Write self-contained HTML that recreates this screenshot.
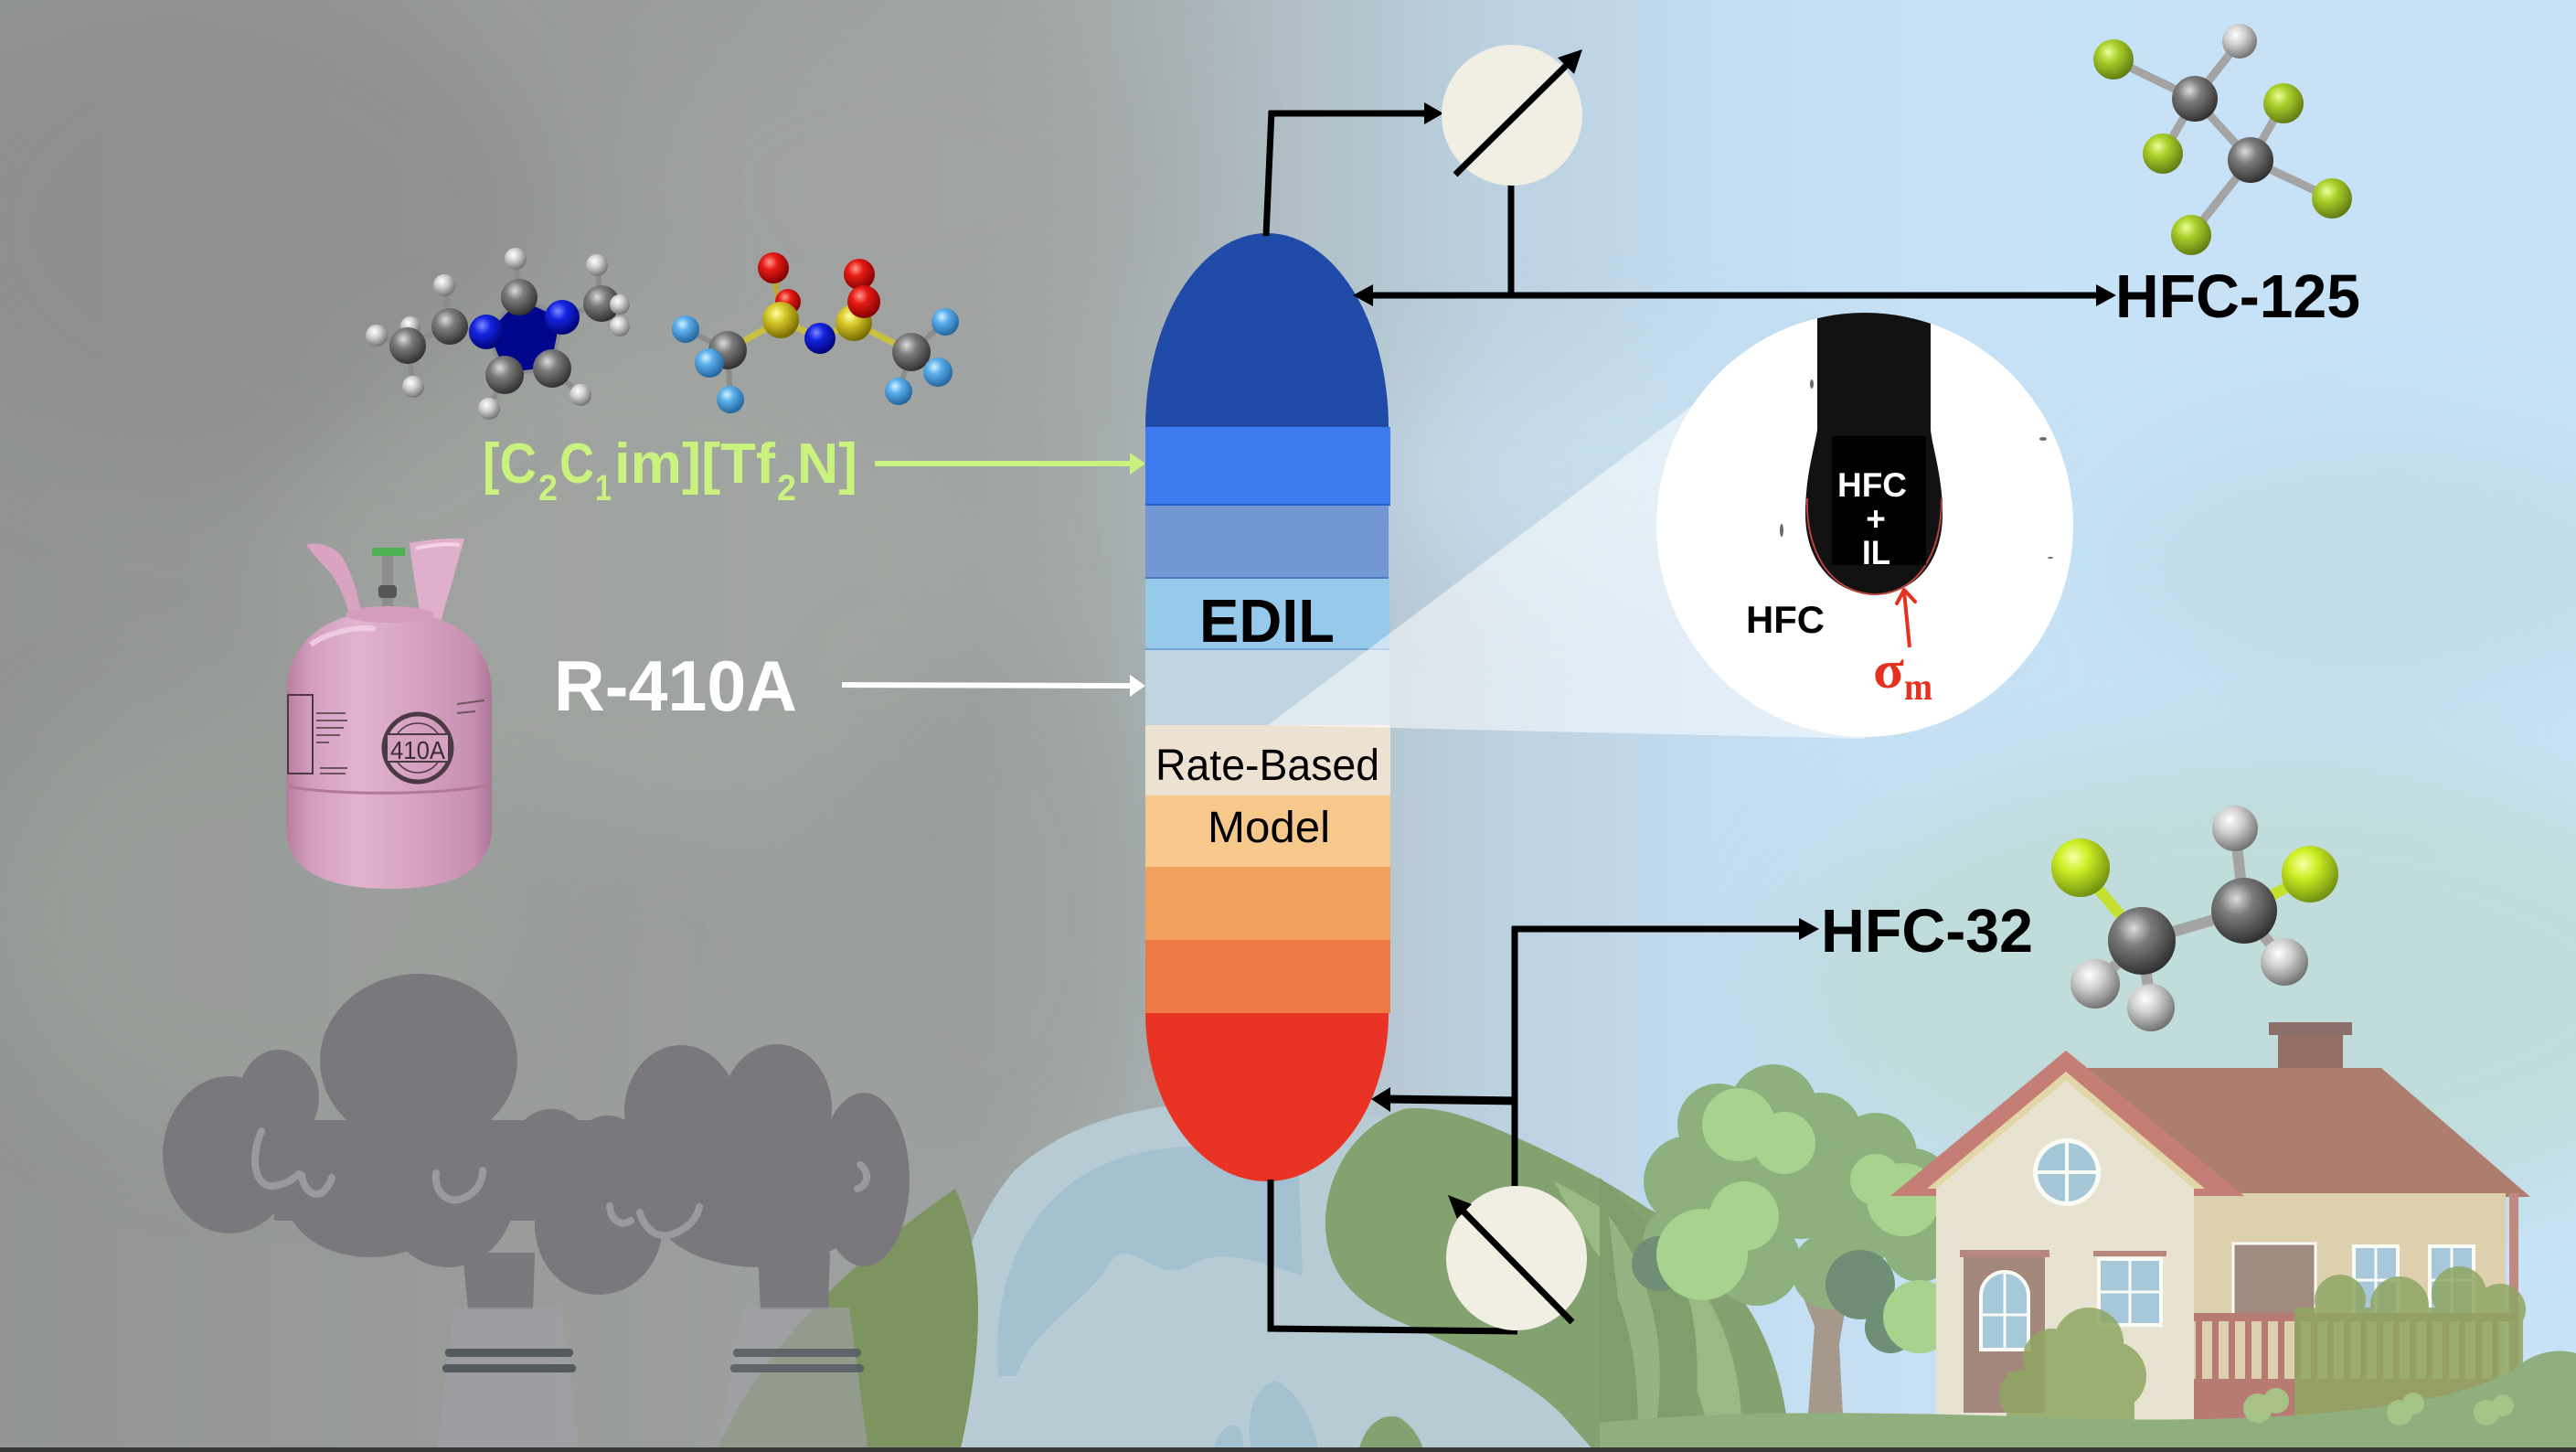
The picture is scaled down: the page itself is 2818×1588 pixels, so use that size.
<!DOCTYPE html>
<html><head><meta charset="utf-8"><style>
html,body{margin:0;padding:0;width:2818px;height:1588px;overflow:hidden;background:#a0a4a2}
svg{display:block}
</style></head><body>
<svg width="2818" height="1588" viewBox="0 0 2818 1588" xmlns="http://www.w3.org/2000/svg" font-family="'Liberation Sans', sans-serif">
<defs>
  <linearGradient id="bg" x1="0" y1="0" x2="2818" y2="0" gradientUnits="userSpaceOnUse">
    <stop offset="0" stop-color="#929592"/>
    <stop offset="0.2" stop-color="#999c99"/>
    <stop offset="0.38" stop-color="#9fa3a1"/>
    <stop offset="0.43" stop-color="#a5acac"/>
    <stop offset="0.5" stop-color="#b0bec6"/>
    <stop offset="0.58" stop-color="#bcd1e0"/>
    <stop offset="0.66" stop-color="#c2dbef"/>
    <stop offset="0.75" stop-color="#c6e1f6"/>
    <stop offset="1" stop-color="#c8e3f8"/>
  </linearGradient>
  <filter id="blur" x="-60%" y="-60%" width="220%" height="220%"><feGaussianBlur stdDeviation="55"/></filter>
  <filter id="blur2" x="-20%" y="-20%" width="140%" height="140%"><feGaussianBlur stdDeviation="3"/></filter>
  <radialGradient id="gC" cx="0.38" cy="0.32" r="0.72"><stop offset="0" stop-color="#dcdcdc"/><stop offset="0.35" stop-color="#7c7c7c"/><stop offset="1" stop-color="#2c2c2c"/></radialGradient>
  <radialGradient id="gH" cx="0.38" cy="0.32" r="0.72"><stop offset="0" stop-color="#ffffff"/><stop offset="0.4" stop-color="#cfcfcf"/><stop offset="1" stop-color="#6c6c6c"/></radialGradient>
  <radialGradient id="gN" cx="0.38" cy="0.32" r="0.72"><stop offset="0" stop-color="#7d8cff"/><stop offset="0.35" stop-color="#1424e0"/><stop offset="1" stop-color="#00006e"/></radialGradient>
  <radialGradient id="gO" cx="0.38" cy="0.32" r="0.72"><stop offset="0" stop-color="#ff9a8a"/><stop offset="0.35" stop-color="#e61a14"/><stop offset="1" stop-color="#7a0000"/></radialGradient>
  <radialGradient id="gS" cx="0.38" cy="0.32" r="0.72"><stop offset="0" stop-color="#ffffa0"/><stop offset="0.35" stop-color="#d6c828"/><stop offset="1" stop-color="#6e6200"/></radialGradient>
  <radialGradient id="gFb" cx="0.38" cy="0.32" r="0.72"><stop offset="0" stop-color="#d4f2ff"/><stop offset="0.35" stop-color="#5aaeea"/><stop offset="1" stop-color="#1f5f98"/></radialGradient>
  <radialGradient id="gFg" cx="0.38" cy="0.32" r="0.72"><stop offset="0" stop-color="#eeff9c"/><stop offset="0.35" stop-color="#aad02a"/><stop offset="1" stop-color="#5c7612"/></radialGradient>
  <radialGradient id="gFy" cx="0.38" cy="0.32" r="0.72"><stop offset="0" stop-color="#fbffa8"/><stop offset="0.35" stop-color="#cdef24"/><stop offset="1" stop-color="#6c8a10"/></radialGradient>
  <linearGradient id="cyl" x1="313" y1="0" x2="540" y2="0" gradientUnits="userSpaceOnUse">
    <stop offset="0" stop-color="#b77d9f"/>
    <stop offset="0.12" stop-color="#d39ec0"/>
    <stop offset="0.35" stop-color="#e2b3d0"/>
    <stop offset="0.6" stop-color="#d7a3c3"/>
    <stop offset="0.9" stop-color="#c890b3"/>
    <stop offset="1" stop-color="#a97294"/>
  </linearGradient>
  <clipPath id="circ"><ellipse cx="2040" cy="574" rx="228" ry="232"/></clipPath>
</defs>

<!-- background -->
<rect x="0" y="0" width="2818" height="1588" fill="url(#bg)"/>
<g filter="url(#blur)">
  <ellipse cx="250" cy="250" rx="350" ry="280" fill="#888b88" opacity="0.55"/>
  <ellipse cx="700" cy="620" rx="380" ry="280" fill="#a6a9a6" opacity="0.5"/>
  <ellipse cx="280" cy="1000" rx="300" ry="240" fill="#a0a3a0" opacity="0.45"/>
  <ellipse cx="1000" cy="200" rx="300" ry="180" fill="#a3a6a4" opacity="0.4"/>
  <ellipse cx="1080" cy="1000" rx="200" ry="300" fill="#959a97" opacity="0.4"/>
  <ellipse cx="2620" cy="620" rx="320" ry="150" fill="#b9d3db" opacity="0.45"/>
  <ellipse cx="2480" cy="1080" rx="520" ry="260" fill="#bdd9cd" opacity="0.65"/>
  <ellipse cx="1750" cy="520" rx="260" ry="120" fill="#cfe5f6" opacity="0.4"/>
</g>

<!-- globe -->
<path d="M1030,1588 C1025,1460 1050,1350 1110,1280 C1180,1215 1290,1200 1400,1205 C1560,1215 1700,1280 1800,1380 C1870,1450 1910,1520 1925,1588 Z" fill="#b7cbd4"/>
<path d="M1092,1505 C1085,1420 1110,1330 1190,1282 C1260,1245 1330,1252 1420,1262 L1425,1395 C1385,1385 1340,1360 1300,1385 C1265,1405 1235,1350 1215,1380 C1195,1420 1130,1450 1112,1505 Z" fill="#a3c1d0"/>
<path d="M1370,1588 C1360,1545 1375,1515 1395,1510 C1420,1520 1440,1560 1442,1588 Z" fill="#a3c1d0"/>
<path d="M1328,1588 C1330,1565 1345,1555 1355,1560 C1362,1570 1360,1588 1360,1588 Z" fill="#a3c1d0"/>
<!-- green land on globe -->
<path d="M1535,1213 C1490,1230 1455,1270 1450,1330 C1448,1380 1470,1420 1530,1445 C1600,1475 1680,1510 1720,1560 L1745,1588 L1958,1588 C1955,1520 1935,1460 1905,1420 C1870,1370 1830,1335 1800,1320 C1760,1292 1700,1262 1650,1240 C1610,1222 1570,1208 1535,1213 Z" fill="#84a26f"/>
<path d="M1700,1292 C1760,1322 1820,1362 1868,1420 C1898,1470 1908,1530 1905,1588 L1872,1588 C1866,1520 1832,1462 1782,1412 C1742,1372 1722,1332 1700,1292 Z" fill="#9ab985"/>
<path d="M1486,1588 C1492,1560 1510,1545 1530,1550 C1548,1560 1556,1580 1558,1588 Z" fill="#84a26f"/>
<path d="M1750,1288 C1790,1320 1830,1370 1850,1430 C1860,1480 1858,1540 1850,1588 L1750,1588 Z" fill="#809e6b"/>
<path d="M1760,1330 C1790,1370 1810,1420 1815,1480 C1818,1530 1812,1560 1805,1588 L1790,1588 C1795,1540 1790,1470 1770,1420 Z" fill="#9bb987" opacity="0.8"/>

<!-- green sliver left of globe -->
<path d="M784,1588 C820,1500 900,1400 1045,1300 C1080,1380 1075,1480 1050,1588 Z" fill="#7b9460"/>

<!-- smoke clouds -->
<g fill="#7a777d">
  <ellipse cx="251" cy="1263" rx="73" ry="86"/>
  <ellipse cx="305" cy="1200" rx="44" ry="52"/>
  <ellipse cx="458" cy="1160" rx="108" ry="95"/>
  <ellipse cx="405" cy="1310" rx="92" ry="65"/>
  <ellipse cx="490" cy="1300" rx="75" ry="86"/>
  <ellipse cx="603" cy="1255" rx="42" ry="42"/>
  <ellipse cx="665" cy="1258" rx="38" ry="38"/>
  <ellipse cx="655" cy="1340" rx="70" ry="76"/>
  <ellipse cx="745" cy="1215" rx="62" ry="72"/>
  <ellipse cx="850" cy="1212" rx="60" ry="70"/>
  <ellipse cx="945" cy="1290" rx="50" ry="95"/>
  <ellipse cx="830" cy="1320" rx="115" ry="66"/>
  <rect x="300" y="1225" width="660" height="110"/>
  <polygon points="506,1370 585,1370 583,1432 512,1432"/>
  <polygon points="829,1370 908,1370 906,1432 832,1432"/>
</g>
<g fill="none" stroke="#9b989f" stroke-width="8" stroke-linecap="round">
  <path d="M286,1237 C272,1270 280,1300 300,1297 C315,1295 322,1288 327,1284"/>
  <path d="M330,1285 C332,1302 345,1312 355,1302 C360,1296 362,1292 363,1288"/>
  <path d="M477,1283 C475,1305 490,1315 502,1312 C518,1308 528,1295 528,1280"/>
  <path d="M667,1319 C668,1335 680,1342 690,1335"/>
  <path d="M700,1326 C705,1345 720,1355 735,1350 C755,1343 763,1330 765,1320"/>
  <path d="M941,1274 C952,1282 950,1296 938,1300"/>
</g>
<!-- chimneys -->
<g opacity="0.62">
  <polygon points="497,1430 614,1430 634,1588 477,1588" fill="#a19fa8"/>
  <polygon points="813,1430 929,1430 950,1588 784,1588" fill="#a19fa8"/>
</g>
<g fill="#555a60">
  <rect x="487" y="1475" width="140" height="9" rx="4"/>
  <rect x="484" y="1492" width="146" height="9" rx="4"/>
  <rect x="802" y="1475" width="140" height="9" rx="4" opacity="0.85"/>
  <rect x="799" y="1492" width="146" height="9" rx="4" opacity="0.85"/>
</g>

<!-- cylinder -->
<g>
  <path d="M335,596 C345,592 362,596 372,606 C384,622 392,650 398,683 L386,686 C380,660 372,640 360,625 C350,614 342,606 335,596 Z" fill="#d9a4c4"/>
  <path d="M448,594 C468,590 492,588 508,589 C502,610 494,640 480,686 L462,686 C458,660 452,630 448,594 Z" fill="#e0afcd"/>
  <path d="M455,600 C470,596 490,594 503,596" stroke="#f3d3e6" stroke-width="4" fill="none"/>
  <rect x="418" y="606" width="12" height="62" fill="#8d8d8d"/>
  <rect x="414" y="640" width="20" height="14" fill="#555" rx="4"/>
  <rect x="407" y="599" width="36" height="9" fill="#4bb153" rx="2"/>
  <path d="M313,760 C313,700 360,668 426,668 C492,668 538,700 538,760 L538,905 C538,950 500,972 426,972 C352,972 313,950 313,905 Z" fill="url(#cyl)"/>
  <ellipse cx="426" cy="672" rx="48" ry="9" fill="#d49cbd"/>
  <path d="M340,705 C360,690 395,685 410,688" stroke="#f2d4e6" stroke-width="6" fill="none" opacity="0.8"/>
  <path d="M316,860 C360,870 490,870 536,858" stroke="#b27899" stroke-width="3" fill="none"/>
  <rect x="315" y="760" width="27" height="86" fill="none" stroke="#4a3a44" stroke-width="2"/>
  <circle cx="457" cy="818" r="37" fill="none" stroke="#4a3a44" stroke-width="5"/>
  <circle cx="457" cy="818" r="27" fill="none" stroke="#4a3a44" stroke-width="1.5"/>
  <rect x="423" y="803" width="68" height="30" fill="#d6a2c2" stroke="#4a3a44" stroke-width="2"/>
  <text x="427" y="830" font-size="28" fill="#3a2e34" textLength="60" lengthAdjust="spacingAndGlyphs">410A</text>
  <g stroke="#6a5560" stroke-width="2">
    <line x1="346" y1="780" x2="378" y2="780"/><line x1="346" y1="788" x2="380" y2="788"/>
    <line x1="346" y1="796" x2="376" y2="796"/><line x1="346" y1="804" x2="372" y2="804"/>
    <line x1="346" y1="812" x2="360" y2="812"/><line x1="350" y1="840" x2="380" y2="840"/>
    <line x1="350" y1="846" x2="378" y2="846"/>
    <line x1="500" y1="770" x2="530" y2="766"/><line x1="500" y1="780" x2="520" y2="778"/>
  </g>
</g>

<!-- cation molecule -->
<g stroke="#8c8c8c" stroke-width="6" stroke-linecap="round">
  <line x1="492" y1="357" x2="446" y2="378"/>
  <line x1="492" y1="357" x2="486" y2="312"/>
  <line x1="446" y1="378" x2="412" y2="367"/>
  <line x1="446" y1="378" x2="452" y2="423"/>
  <line x1="446" y1="378" x2="449" y2="357"/>
  <line x1="532" y1="363" x2="492" y2="357"/>
  <line x1="568" y1="325" x2="564" y2="283"/>
  <line x1="552" y1="410" x2="535" y2="447"/>
  <line x1="604" y1="403" x2="635" y2="432"/>
  <line x1="615" y1="347" x2="658" y2="332"/>
  <line x1="658" y1="332" x2="653" y2="290"/>
  <line x1="658" y1="332" x2="678" y2="357"/>
</g>
<polygon points="532,363 568,325 615,347 604,403 552,410" fill="#00078c" stroke="#8c8c8c" stroke-width="4"/>
<g>
  <circle cx="449" cy="357" r="11" fill="url(#gH)"/>
  <circle cx="486" cy="312" r="12" fill="url(#gH)"/>
  <circle cx="564" cy="283" r="12" fill="url(#gH)"/>
  <circle cx="653" cy="290" r="12" fill="url(#gH)"/>
  <circle cx="412" cy="367" r="12" fill="url(#gH)"/>
  <circle cx="446" cy="378" r="20" fill="url(#gC)"/>
  <circle cx="492" cy="357" r="20" fill="url(#gC)"/>
  <circle cx="568" cy="325" r="20" fill="url(#gC)"/>
  <circle cx="658" cy="332" r="20" fill="url(#gC)"/>
  <circle cx="678" cy="333" r="11" fill="url(#gH)"/>
  <circle cx="678" cy="357" r="11" fill="url(#gH)"/>
  <circle cx="532" cy="363" r="19" fill="url(#gN)"/>
  <circle cx="615" cy="347" r="19" fill="url(#gN)"/>
  <circle cx="552" cy="410" r="21" fill="url(#gC)"/>
  <circle cx="604" cy="403" r="21" fill="url(#gC)"/>
  <circle cx="452" cy="423" r="12" fill="url(#gH)"/>
  <circle cx="535" cy="447" r="12" fill="url(#gH)"/>
  <circle cx="635" cy="432" r="12" fill="url(#gH)"/>
</g>

<!-- anion molecule -->
<g stroke="#8c8c8c" stroke-width="6" stroke-linecap="round">
  <line x1="796" y1="383" x2="750" y2="360"/>
  <line x1="796" y1="383" x2="776" y2="397"/>
  <line x1="796" y1="383" x2="799" y2="437"/>
  <line x1="997" y1="385" x2="1034" y2="352"/>
  <line x1="997" y1="385" x2="1026" y2="407"/>
  <line x1="997" y1="385" x2="983" y2="428"/>
  <line x1="854" y1="350" x2="846" y2="293" stroke="#b8a838"/>
  <line x1="934" y1="353" x2="940" y2="300" stroke="#b8a838"/>
</g>
<g stroke="#c8c040" stroke-width="7" stroke-linecap="round">
  <line x1="796" y1="383" x2="854" y2="350"/>
  <line x1="854" y1="350" x2="897" y2="370"/>
  <line x1="897" y1="370" x2="934" y2="353"/>
  <line x1="934" y1="353" x2="997" y2="385"/>
</g>
<g>
  <circle cx="862" cy="330" r="14" fill="url(#gO)"/>
  <circle cx="846" cy="293" r="17" fill="url(#gO)"/>
  <circle cx="940" cy="300" r="17" fill="url(#gO)"/>
  <circle cx="854" cy="350" r="20" fill="url(#gS)"/>
  <circle cx="934" cy="353" r="20" fill="url(#gS)"/>
  <circle cx="945" cy="330" r="18" fill="url(#gO)"/>
  <circle cx="897" cy="370" r="17" fill="url(#gN)"/>
  <circle cx="750" cy="360" r="15" fill="url(#gFb)"/>
  <circle cx="1034" cy="352" r="15" fill="url(#gFb)"/>
  <circle cx="796" cy="383" r="21" fill="url(#gC)"/>
  <circle cx="997" cy="385" r="21" fill="url(#gC)"/>
  <circle cx="776" cy="397" r="16" fill="url(#gFb)"/>
  <circle cx="799" cy="437" r="15" fill="url(#gFb)"/>
  <circle cx="1026" cy="407" r="16" fill="url(#gFb)"/>
  <circle cx="983" cy="428" r="15" fill="url(#gFb)"/>
</g>

<!-- IL label and arrow -->
<g fill="#c9f27f" font-weight="bold">
  <text x="528" y="528" font-size="62" textLength="59" lengthAdjust="spacingAndGlyphs">[C</text>
  <text x="589" y="547" font-size="40" textLength="21" lengthAdjust="spacingAndGlyphs">2</text>
  <text x="612" y="528" font-size="62" textLength="38" lengthAdjust="spacingAndGlyphs">C</text>
  <text x="651" y="547" font-size="40" textLength="18" lengthAdjust="spacingAndGlyphs">1</text>
  <text x="672" y="528" font-size="62" textLength="176" lengthAdjust="spacingAndGlyphs">im][Tf</text>
  <text x="850" y="547" font-size="40" textLength="21" lengthAdjust="spacingAndGlyphs">2</text>
  <text x="872" y="528" font-size="62" textLength="66" lengthAdjust="spacingAndGlyphs">N]</text>
</g>
<line x1="957" y1="507" x2="1240" y2="507" stroke="#c9f27f" stroke-width="6"/>
<polygon points="1253,507 1236,495 1236,519" fill="#c9f27f"/>

<!-- R-410A -->
<text x="606" y="777" font-size="78" font-weight="bold" fill="#ffffff" textLength="266" lengthAdjust="spacingAndGlyphs">R-410A</text>
<line x1="921" y1="749" x2="1240" y2="750" stroke="#ffffff" stroke-width="6"/>
<polygon points="1253,750 1236,738 1236,762" fill="#ffffff"/>

<!-- column -->
<path d="M1253,468 A133,213 0 0 1 1519,468 Z" fill="#1f4aa7"/>
<rect x="1253" y="467" width="268" height="86" fill="#3d79ef"/>
<rect x="1253" y="551" width="268" height="2" fill="#2c5fc4"/>
<rect x="1253" y="553" width="266" height="80" fill="#7397d3"/>
<rect x="1253" y="631" width="266" height="2" fill="#4f78c2"/>
<rect x="1253" y="633" width="267" height="78" fill="#97c9ea"/>
<rect x="1253" y="709" width="267" height="2" fill="#6ea6d6"/>
<rect x="1253" y="711" width="267" height="82" fill="#bfd5e1"/>
<rect x="1253" y="793" width="268" height="77" fill="#ede2d1"/>
<rect x="1253" y="870" width="268" height="78" fill="#f6c88b"/>
<rect x="1253" y="948" width="268" height="80" fill="#f1a15d"/>
<rect x="1253" y="1028" width="268" height="80" fill="#ed7944"/>
<path d="M1253,1108 A133,184 0 0 0 1519,1108 Z" fill="#e93324"/>

<text x="1312" y="702" font-size="67" font-weight="bold" fill="#000" textLength="148" lengthAdjust="spacingAndGlyphs">EDIL</text>
<text x="1264" y="853" font-size="48" fill="#000" textLength="245" lengthAdjust="spacingAndGlyphs">Rate-Based</text>
<text x="1321" y="921" font-size="48" fill="#000" textLength="134" lengthAdjust="spacingAndGlyphs">Model</text>

<!-- magnifier beam -->
<polygon points="1387,793 1852,443 2040,574 2040,808" fill="#ffffff" opacity="0.52"/>

<!-- drop image circle -->
<ellipse cx="2040" cy="574" rx="228" ry="232" fill="#ffffff"/>
<g clip-path="url(#circ)">
  <path d="M1988,330 L1988,470 C1985,490 1975,520 1975,562 C1975,618 2010,650 2050,650 C2092,650 2125,618 2125,562 C2125,520 2114,490 2112,470 L2112,330 Z" fill="#121212"/>
  <path d="M1977,545 C1975,600 2000,648 2050,650 C2095,650 2124,610 2124,545" fill="none" stroke="#b8443c" stroke-width="2"/>
  <rect x="2004" y="477" width="103" height="141" fill="#000"/>
  <g fill="#6a6a6a">
    <ellipse cx="1982" cy="420" rx="2" ry="5"/><ellipse cx="1949" cy="580" rx="2" ry="7"/>
    <ellipse cx="2235" cy="480" rx="4" ry="2"/><ellipse cx="2243" cy="610" rx="3" ry="1"/>
    <ellipse cx="2225" cy="410" rx="5" ry="1"/>
  </g>
</g>
<g font-weight="bold" fill="#ffffff">
  <text x="2010" y="543" font-size="37" textLength="76" lengthAdjust="spacingAndGlyphs">HFC</text>
  <text x="2052" y="580" font-size="37" text-anchor="middle">+</text>
  <text x="2037" y="617" font-size="37" textLength="31" lengthAdjust="spacingAndGlyphs">IL</text>
</g>
<text x="1910" y="692" font-size="42" font-weight="bold" fill="#000" textLength="86" lengthAdjust="spacingAndGlyphs">HFC</text>
<polyline points="2075,660 2083,645 2095,658" fill="none" stroke="#e5311f" stroke-width="4" stroke-linecap="round" stroke-linejoin="round"/>
<line x1="2089" y1="708" x2="2083" y2="647" stroke="#e5311f" stroke-width="4"/>
<text x="2049" y="752" font-size="58" font-weight="bold" fill="#e5311f" font-family="'Liberation Serif', serif" textLength="34" lengthAdjust="spacingAndGlyphs">σ</text>
<text x="2083" y="765" font-size="42" font-weight="bold" fill="#e5311f" font-family="'Liberation Serif', serif" textLength="31" lengthAdjust="spacingAndGlyphs">m</text>

<!-- top condenser and lines -->
<g stroke="#000" stroke-width="7" fill="none">
  <line x1="1385" y1="258" x2="1391" y2="121"/>
  <line x1="1388" y1="124" x2="1562" y2="124"/>
  <line x1="1653" y1="200" x2="1653" y2="326"/>
  <line x1="1498" y1="323" x2="2295" y2="323"/>
</g>
<polygon points="1579,124 1558,112 1558,136" fill="#000"/>
<polygon points="1480,323 1502,311 1502,335" fill="#000"/>
<polygon points="2315,323 2293,311 2293,335" fill="#000"/>
<ellipse cx="1654" cy="126" rx="77" ry="77" fill="#f1efe4"/>
<line x1="1592" y1="191" x2="1716" y2="69" stroke="#000" stroke-width="7"/>
<polygon points="1731,54 1722,81 1704,63" fill="#000"/>

<!-- HFC-125 -->
<text x="2314" y="347" font-size="67" font-weight="bold" fill="#000" textLength="268" lengthAdjust="spacingAndGlyphs">HFC-125</text>
<g stroke="#a4a4a4" stroke-width="9" stroke-linecap="round">
  <line x1="2401" y1="108" x2="2462" y2="175"/>
  <line x1="2401" y1="108" x2="2450" y2="45"/>
  <line x1="2401" y1="108" x2="2312" y2="65"/>
  <line x1="2401" y1="108" x2="2366" y2="168"/>
  <line x1="2462" y1="175" x2="2498" y2="113"/>
  <line x1="2462" y1="175" x2="2551" y2="217"/>
  <line x1="2462" y1="175" x2="2397" y2="257"/>
</g>
<circle cx="2450" cy="45" r="19" fill="url(#gH)"/>
<circle cx="2312" cy="65" r="22" fill="url(#gFg)"/>
<circle cx="2498" cy="113" r="22" fill="url(#gFg)"/>
<circle cx="2401" cy="108" r="25" fill="url(#gC)"/>
<circle cx="2366" cy="168" r="22" fill="url(#gFg)"/>
<circle cx="2462" cy="175" r="25" fill="url(#gC)"/>
<circle cx="2551" cy="217" r="22" fill="url(#gFg)"/>
<circle cx="2397" cy="257" r="22" fill="url(#gFg)"/>

<!-- tree -->
<polygon points="1975,1588 1985,1450 1955,1375 1968,1370 1995,1425 2012,1380 2032,1330 2044,1335 2024,1400 2012,1470 2018,1588" fill="#a39080" opacity="0.9"/>
<g fill="#8db07e">
  <circle cx="1880" cy="1230" r="45"/><circle cx="1940" cy="1212" r="48"/><circle cx="1992" cy="1240" r="45"/>
  <circle cx="2052" cy="1262" r="45"/><circle cx="2092" cy="1300" r="44"/><circle cx="1848" cy="1292" r="50"/>
  <circle cx="1902" cy="1300" r="55"/><circle cx="1970" cy="1300" r="55"/><circle cx="2040" cy="1330" r="50"/>
  <circle cx="2100" cy="1362" r="40"/><circle cx="1842" cy="1360" r="45"/><circle cx="1922" cy="1380" r="48"/>
  <circle cx="2002" cy="1390" r="42"/>
</g>
<g fill="#708d75">
  <circle cx="1815" cy="1382" r="30"/><circle cx="2035" cy="1405" r="38"/><circle cx="2068" cy="1452" r="28"/>
</g>
<g fill="#a7d38e">
  <circle cx="1902" cy="1230" r="40"/><circle cx="1952" cy="1250" r="34"/><circle cx="1862" cy="1372" r="50"/>
  <circle cx="1908" cy="1330" r="38"/><circle cx="2082" cy="1312" r="40"/><circle cx="2100" cy="1440" r="40"/>
  <circle cx="2052" cy="1290" r="28"/>
</g>

<!-- house -->
<rect x="2482" y="1118" width="91" height="14" fill="#8c6f69"/>
<rect x="2492" y="1132" width="71" height="40" fill="#936f66"/>
<polygon points="2281,1168 2605,1168 2768,1309 2448,1309" fill="#ad7e6d"/>
<rect x="2400" y="1305" width="341" height="251" fill="#ddd0ae"/>
<rect x="2745" y="1305" width="10" height="251" fill="#c08a82"/>
<polygon points="2260,1149 2455,1308 2068,1308" fill="#c47e76"/>
<polygon points="2260,1172 2412,1300 2108,1300" fill="#e3d6a8"/>
<polygon points="2260,1182 2400,1300 2400,1556 2118,1556 2118,1300" fill="#e8e3d0"/>
<circle cx="2261" cy="1282" r="37" fill="#fbfbf5"/>
<circle cx="2261" cy="1282" r="32" fill="#a5c8d9"/>
<line x1="2261" y1="1250" x2="2261" y2="1314" stroke="#fbfbf5" stroke-width="4"/>
<line x1="2229" y1="1282" x2="2293" y2="1282" stroke="#fbfbf5" stroke-width="4"/>
<rect x="2144" y="1367" width="98" height="8" fill="#b7877d"/>
<rect x="2148" y="1375" width="89" height="170" fill="#a4877c"/>
<path d="M2167,1476 L2167,1417 A26,26 0 0 1 2219,1417 L2219,1476 Z" fill="#a5c8da" stroke="#fbfbf5" stroke-width="4"/>
<line x1="2193" y1="1392" x2="2193" y2="1476" stroke="#fbfbf5" stroke-width="3"/>
<line x1="2167" y1="1438" x2="2219" y2="1438" stroke="#fbfbf5" stroke-width="3"/>
<rect x="2290" y="1368" width="80" height="6" fill="#b7877d"/>
<rect x="2296" y="1377" width="68" height="72" fill="#a6c8da" stroke="#fbfbf5" stroke-width="4"/>
<line x1="2330" y1="1377" x2="2330" y2="1449" stroke="#fbfbf5" stroke-width="3"/>
<line x1="2296" y1="1413" x2="2364" y2="1413" stroke="#fbfbf5" stroke-width="3"/>
<rect x="2443" y="1360" width="90" height="80" fill="#a28a80" stroke="#fbfbf5" stroke-width="3"/>
<rect x="2575" y="1363" width="48" height="76" fill="#a6c8da" stroke="#fbfbf5" stroke-width="4"/>
<line x1="2599" y1="1363" x2="2599" y2="1439" stroke="#fbfbf5" stroke-width="3"/>
<line x1="2575" y1="1400" x2="2623" y2="1400" stroke="#fbfbf5" stroke-width="3"/>
<rect x="2658" y="1363" width="48" height="76" fill="#a6c8da" stroke="#fbfbf5" stroke-width="4"/>
<line x1="2682" y1="1363" x2="2682" y2="1439" stroke="#fbfbf5" stroke-width="3"/>
<line x1="2658" y1="1400" x2="2706" y2="1400" stroke="#fbfbf5" stroke-width="3"/>
<rect x="2400" y="1436" width="355" height="9" fill="#b87b73"/>
<g fill="#b87b73">
  <rect x="2402" y="1445" width="7" height="65"/><rect x="2420" y="1445" width="7" height="65"/>
  <rect x="2438" y="1445" width="7" height="65"/><rect x="2456" y="1445" width="7" height="65"/>
  <rect x="2474" y="1445" width="7" height="65"/><rect x="2492" y="1445" width="7" height="65"/>
  <rect x="2510" y="1445" width="7" height="65"/><rect x="2528" y="1445" width="7" height="65"/>
  <rect x="2546" y="1445" width="7" height="65"/><rect x="2564" y="1445" width="7" height="65"/>
  <rect x="2582" y="1445" width="7" height="65"/><rect x="2600" y="1445" width="7" height="65"/>
  <rect x="2618" y="1445" width="7" height="65"/><rect x="2636" y="1445" width="7" height="65"/>
  <rect x="2654" y="1445" width="7" height="65"/><rect x="2672" y="1445" width="7" height="65"/>
  <rect x="2690" y="1445" width="7" height="65"/><rect x="2708" y="1445" width="7" height="65"/>
  <rect x="2726" y="1445" width="7" height="65"/>
  <rect x="2400" y="1508" width="355" height="48"/>
</g>
<g fill="#8fa763" opacity="0.85">
  <circle cx="2245" cy="1485" r="32"/><circle cx="2285" cy="1468" r="38"/><circle cx="2310" cy="1505" r="38"/>
  <circle cx="2215" cy="1525" r="28"/><rect x="2195" y="1500" width="140" height="56"/>
  <circle cx="2560" cy="1422" r="28"/><circle cx="2625" cy="1428" r="32"/><circle cx="2690" cy="1415" r="30"/>
  <circle cx="2735" cy="1432" r="28"/><rect x="2510" y="1430" width="250" height="126"/>
</g>
<path d="M1750,1556 C1900,1540 2100,1545 2300,1552 C2500,1556 2700,1540 2760,1490 C2790,1470 2818,1480 2818,1480 L2818,1588 L1750,1588 Z" fill="#8fb07e"/>
<g fill="#a6c98a" opacity="0.9">
  <circle cx="2470" cy="1540" r="16"/><circle cx="2490" cy="1532" r="14"/>
  <circle cx="2625" cy="1545" r="14"/><circle cx="2640" cy="1535" r="12"/>
  <circle cx="2720" cy="1545" r="14"/><circle cx="2738" cy="1537" r="12"/>
</g>

<!-- bottom condenser and lines -->
<g stroke="#000" stroke-width="7" fill="none">
  <polyline points="1390,1290 1390,1453 1660,1456"/>
  <line x1="1657" y1="1300" x2="1657" y2="1013"/>
  <line x1="1654" y1="1016" x2="1968" y2="1016"/>
</g>
<line x1="1660" y1="1204" x2="1518" y2="1202" stroke="#000" stroke-width="9"/>
<polygon points="1500,1202 1521,1189 1521,1216" fill="#000"/>
<polygon points="1990,1016 1968,1004 1968,1028" fill="#000"/>
<ellipse cx="1659" cy="1376" rx="77" ry="79" fill="#f1efe4"/>
<line x1="1720" y1="1446" x2="1598" y2="1322" stroke="#000" stroke-width="7"/>
<polygon points="1584,1307 1610,1317 1594,1333" fill="#000"/>

<!-- HFC-32 -->
<text x="1992" y="1041" font-size="67" font-weight="bold" fill="#000" textLength="232" lengthAdjust="spacingAndGlyphs">HFC-32</text>
<g stroke="#a4a4a4" stroke-width="12" stroke-linecap="round">
  <line x1="2343" y1="1029" x2="2455" y2="996"/>
  <line x1="2343" y1="1029" x2="2292" y2="1076"/>
  <line x1="2343" y1="1029" x2="2353" y2="1102"/>
  <line x1="2455" y1="996" x2="2445" y2="906"/>
  <line x1="2455" y1="996" x2="2499" y2="1052"/>
</g>
<g stroke="#c6e030" stroke-width="12" stroke-linecap="round">
  <line x1="2343" y1="1029" x2="2276" y2="949"/>
  <line x1="2455" y1="996" x2="2527" y2="956"/>
</g>
<circle cx="2445" cy="906" r="25" fill="url(#gH)"/>
<circle cx="2276" cy="949" r="32" fill="url(#gFy)"/>
<circle cx="2455" cy="996" r="36" fill="url(#gC)"/>
<circle cx="2527" cy="956" r="31" fill="url(#gFy)"/>
<circle cx="2499" cy="1052" r="26" fill="url(#gH)"/>
<circle cx="2343" cy="1029" r="37" fill="url(#gC)"/>
<circle cx="2292" cy="1076" r="27" fill="url(#gH)"/>
<circle cx="2353" cy="1102" r="26" fill="url(#gH)"/>

<!-- bottom strip -->
<rect x="0" y="1583" width="2818" height="5" fill="#383838"/>
</svg>
</body></html>
